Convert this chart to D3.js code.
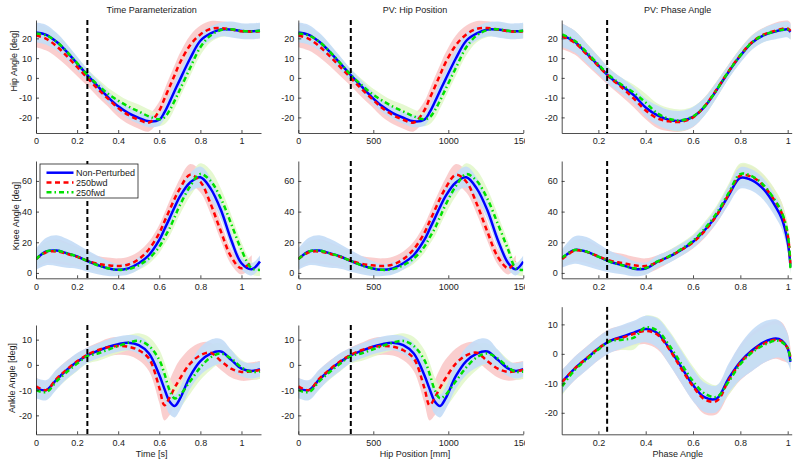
<!DOCTYPE html>
<html><head><meta charset="utf-8">
<script src="https://cdn.jsdelivr.net/npm/d3@7"></script>
<style>body{margin:0;background:#fff}svg{display:block}</style>
</head><body>
<svg id="c" width="800" height="465"></svg>
<script>
// ---- grids (x categories) ----
const timeGrid = [0,0.05,0.1,0.15,0.2,0.25,0.3,0.35,0.4,0.45,0.5,0.55,0.6,0.625,0.65,0.675,0.7,0.75,0.8,0.85,0.9,0.95,1.0,1.05,1.09];
const hipPosGrid = [0,70,140,210,280,350,420,490,560,630,700,770,840,875,910,945,980,1050,1120,1190,1260,1330,1400,1450,1500];
const phaseGrid = [0.047,0.1,0.15,0.2,0.25,0.3,0.35,0.4,0.45,0.5,0.55,0.6,0.65,0.7,0.75,0.8,0.85,0.9,0.95,0.975,1.0,1.012];

// ---- time / hip-position parameterization (means) ----
const hipNP  = [23,21.8,18.3,13.2,7.3,1.4,-4.2,-9.7,-14.4,-17.8,-20.2,-22,-21.2,-17.5,-12.2,-6.5,-1,9.8,18.8,22.5,24.5,24.5,23.7,23.6,23.9];
const hipBwd = [21.5,19.8,16,11,5.5,0,-5.5,-10.5,-15.3,-18.8,-21.2,-22.6,-16.5,-10.5,-4.6,1.5,7.5,16.5,22,24.8,25.2,24.5,23.6,23.4,23.6];
const hipFwd = [22.5,21.5,18.3,13.3,7.5,1.5,-3.5,-8,-11.5,-14.5,-17,-19.5,-21,-20,-16.5,-11.5,-6,5,15.5,21.5,24.2,24.6,23.8,23.5,23.8];
const kneeNP  = [9,14,14.6,12.8,10.7,7.8,5.2,3,2,3,6.3,11.7,21.5,28.5,35.6,43,49.8,59,62.4,55,41,21.5,6.3,2.4,7.4];
const kneeBwd = [9,13.5,14,12.5,10.5,8,6,5,4.5,5.5,9,15.5,26,33.5,41,48.5,55,64,59.5,45,27,10.5,3,7.5,null];
const kneeFwd = [9,14,14.6,12.8,10.7,7.8,5,3,2,2.5,5,9.5,17,23,29,36.5,44,56.5,64.5,60,48.5,32,15,3,2];
const ankleNP  = [-9.2,-10,-5.8,-2,1.2,3.8,5.5,7.1,8.2,8.8,7.8,4.5,-4,-9.5,-14.5,-16.3,-13.5,-4.5,1.5,4.5,5.3,2,-1.5,-2.4,-1.7];
const ankleBwd = [-8.5,-10,-5.5,-1.8,1.4,4,5.8,7,7.5,7.2,5.8,2.5,-9,-16,-13,-9,-5.5,0.5,3.8,4.8,1.5,-1.5,-2.8,-2.5,-2];
const ankleFwd = [-10,-10.8,-6.5,-2.8,0.5,3.5,4.5,6,7.5,8.8,9.5,7.5,2,-3.5,-10,-13.3,-12,-6.5,-1,3,4.5,2.5,-1,-2.8,-2.6];
// standard deviations
const hipSdNP  = [5,5,4.5,4,3.5,3,3,3,3,3,3,3,3,3.5,4,4.5,4.5,4.5,4,3.5,3.5,4,4,4,4];
const hipSdBwd = [6,6,5.5,5,4.5,4,4,4,4.5,4.5,4.5,4.5,4.5,4.5,5,5,5,5,4.5,4,3.5,3.5,3.5,3.5,3.5];
const hipSdFwd = [4,4,4,3.5,3,3,3,3,3,3,3.5,3.5,3.5,3.5,4,4,4,4,4,3.5,3.5,3.5,3.5,3.5,3.5];
const kneeSdNP  = [7,9,10,9.5,8,7,6,5,4,4,4,4,4.5,4.5,5,5,5.5,6,7,7,6,5,4,4,4];
const kneeSdBwd = [6,7,8,7.5,6.5,5.5,5,5,5,5,5,5,5.5,5.5,6,6,6.5,7,7,6.5,6,5,4,4,4];
const kneeSdFwd = [5,6,6.5,6,5.5,5,4,3.5,3,3,3,3.5,4,4.5,5,5.5,6,6.5,7,7,6.5,6,5,4,4];
const ankleSdNP  = [4,4,4,3.5,3.5,3,3,3,3,3,3.5,4,5,5,5,4.5,4.5,5,5.5,5.5,5,4,3,3,3];
const ankleSdBwd = [3.5,3.5,3.5,3.5,3,3,3,3.5,3.5,3.5,4,5,6,6,7,7.5,7.5,6,5,4,3.5,3.5,3.5,3.5,3.5];
const ankleSdFwd = [3,3,3,3,3,3,3,3,3,3,3,3.5,4,4.5,5,5,5,5,5,5,4,3.5,3,3,3];

// ---- phase angle parameterization ----
const phHipNP  = [21.5,18.3,12.4,6.3,0.2,-4.1,-8.8,-15,-19,-21.3,-21.7,-19.7,-14.4,-6.1,3,11.2,17.9,21.7,23.6,24.2,24.5,23.3];
const phHipBwd = [21,17.8,12,6,0,-5,-10.5,-16.5,-20.5,-22,-22.2,-20,-14.2,-5.8,3.3,11.5,18.2,22,24,24.8,25,23.8];
const phHipFwd = [22,18.8,13,6.8,0.8,-3.6,-7.5,-12.5,-18,-20.8,-21.5,-19.5,-14.3,-6,3.2,11.4,18,21.8,23.6,24.3,24.5,23];
const phKneeNP  = [9.5,15,13.9,10.6,7.3,5.2,2.8,2.8,7.4,10.6,15,20.3,28,37.7,50.5,62,60.4,54.3,43,35.5,20.3,4];
const phKneeBwd = [9,14.5,13.8,10.8,8,6.5,5,4.5,7,10.8,15,20,27.5,37.5,51,63.5,62.5,56.5,46,39,25,6];
const phKneeFwd = [10,15,13.9,10.6,7.3,5,3,3.2,7.5,11,15.5,21,29,39,52,64.5,63,57,46.5,39.5,26,2.5];
const phAnkleNP  = [-9.5,-5,-1.6,1.8,4.4,5.8,7.2,8.4,7,1.8,-4.4,-10.6,-14.8,-15.2,-8.4,-2.7,1.2,4,5.2,4.5,1.8,-2.7];
const phAnkleBwd = [-9.5,-5,-1.5,1.8,4.5,5.5,6.8,7.8,6.5,1.5,-5,-11,-15.5,-16,-9,-3,0.8,3.5,4.8,4.2,2,-1];
const phAnkleFwd = [-11,-5.5,-2,1.5,4.3,4.8,5.5,9,7.8,2.8,-3.3,-9.3,-13.5,-14.6,-9.5,-3.5,0.5,3,4.5,4,2,-2.5];
const phHipSdNP  = [6,5.5,5,4.5,4,4,4,4.5,5,5,5,5,4.5,4,3.5,3.5,3.5,3.5,4,4,4,4];
const phHipSdBwd = [6.5,6,5.5,5,4.5,4.5,4.5,4.5,5,5,5,5,4.5,4,3.5,3.5,3.5,3.5,4,4,4,4];
const phHipSdFwd = [5,5,4.5,4,3.5,3.5,4,4.5,5,5.5,5.5,5,4.5,4,3.5,3.5,3.5,3.5,3.5,3.5,3.5,3.5];
const phKneeSdNP  = [6,9,9.5,8.5,7,6,5,4,4,4,4,4,4.5,5,6,7,7,7,7,7,6,4];
const phKneeSdBwd = [5,7,7.5,7,6,6,5.5,5,4.5,4,4,4,4.5,5,6,7,7,7,7,7,6,4];
const phKneeSdFwd = [5,6,6,5.5,5,4,3,3,3.5,4,4,4,4.5,5,6,7,7,7,7,6.5,6,4];
const phAnkleSdNP  = [4,4,4,4,4,4,4,4.5,5,5.5,5.5,5.5,5,4.5,5,6,7,7,6.5,6,5,3];
const phAnkleSdBwd = [4,4,4,4,4,4,4,4.5,5,5,5,5,5,4.5,5,6,6.5,6.5,6.5,6.5,5,3];
const phAnkleSdFwd = [3,3,3,3,3,3.5,4,4,4.5,5,5,5,4.5,4,4.5,5,5.5,5.5,5.5,5,4,3];

// ---- labels / ticks ----
const seriesNames = ["Non-Perturbed","250bwd","250fwd"];
const colTitles = ["Time Parameterization","PV: Hip Position","PV: Phase Angle"];
const colXLabels = ["Time [s]","Hip Position [mm]","Phase Angle"];
const rowYLabels = ["Hip Angle [deg]","Knee Angle [deg]","Ankle Angle [deg]"];
const xTicks = [[0,0.2,0.4,0.6,0.8,1],[0,500,1000,1500],[0.2,0.4,0.6,0.8,1]];
const yTicks = [[-20,-10,0,10,20],[0,20,40,60],[-20,-10,0,10]];
const markerX = [0.25, 350, 0.237];

// ---- layout / style ----
const font = "'Liberation Sans', Arial, Helvetica, sans-serif";
const colPx = [[36,261],[298.3,523.3],[561.7,791.7]];
const xDomains = [[0,1.095],[0,1500],[0.045,1.017]];
const rowPx = [[[20,133],[20,133],[20,133]],[[161,278.3],[161,278.3],[161,278.3]],[[325,434.3],[325,434.3],[306.7,434.3]]];
const yDomains = [[[-27.9,29.3],[-27.9,29.3],[-27.9,29.3]],[[-3.5,73],[-3.5,73],[-3.5,73]],[[-27.5,15.8],[-27.5,15.8],[-27.3,16]]];
const sty = [
  {color:"#0000ff", band:"#c4dcf6", dash:null},
  {color:"#ff0000", band:"#f9c6c6", dash:"5,3.5"},
  {color:"#00e000", band:"#e0f7c8", dash:"5,3,1.5,3"}
];

const grids = [timeGrid, hipPosGrid, phaseGrid];
const tpData = [
  [[hipNP,hipSdNP],[hipBwd,hipSdBwd],[hipFwd,hipSdFwd]],
  [[kneeNP,kneeSdNP],[kneeBwd,kneeSdBwd],[kneeFwd,kneeSdFwd]],
  [[ankleNP,ankleSdNP],[ankleBwd,ankleSdBwd],[ankleFwd,ankleSdFwd]]
];
const phData = [
  [[phHipNP,phHipSdNP],[phHipBwd,phHipSdBwd],[phHipFwd,phHipSdFwd]],
  [[phKneeNP,phKneeSdNP],[phKneeBwd,phKneeSdBwd],[phKneeFwd,phKneeSdFwd]],
  [[phAnkleNP,phAnkleSdNP],[phAnkleBwd,phAnkleSdBwd],[phAnkleFwd,phAnkleSdFwd]]
];

const svg = d3.select("#c");
const defs = svg.append("defs");
// clip for the middle column's tick labels (the last label is cut at the figure edge)
defs.append("clipPath").attr("id", "tclip").append("rect")
  .attr("x", 0).attr("y", -20).attr("width", 525).attr("height", 60);

for (let r = 0; r < 3; r++) {
  for (let c = 0; c < 3; c++) {
    const [x0, x1] = colPx[c];
    const [y0, y1] = rowPx[r][c];
    const x = d3.scaleLinear().domain(xDomains[c]).range([x0, x1]);
    const y = d3.scaleLinear().domain(yDomains[r][c]).range([y1, y0]);
    const grid = grids[c];
    const data = c === 2 ? phData[r] : tpData[r];
    const cid = `clip${r}${c}`;
    defs.append("clipPath").attr("id", cid).append("rect")
      .attr("x", x0).attr("y", y0).attr("width", x1 - x0).attr("height", y1 - y0);
    const g = svg.append("g").attr("clip-path", `url(#${cid})`);

    const pts = (k) => grid.map((gx, i) => ({x: gx, m: data[k][0][i], s: data[k][1][i]}));
    const area = d3.area().defined(d => d.m != null)
      .x(d => x(d.x)).y0(d => y(d.m - d.s)).y1(d => y(d.m + d.s))
      .curve(d3.curveCatmullRom);
    const line = d3.line().defined(d => d.m != null)
      .x(d => x(d.x)).y(d => y(d.m)).curve(d3.curveCatmullRom);

    [1, 2, 0].forEach(k => {
      g.append("path").attr("d", area(pts(k))).attr("fill", sty[k].band)
        .attr("fill-opacity", k === 0 ? 0.92 : 0.85);
    });
    [0, 1, 2].forEach(k => {
      g.append("path").attr("d", line(pts(k))).attr("fill", "none")
        .attr("stroke", sty[k].color).attr("stroke-width", 2.5)
        .attr("stroke-dasharray", sty[k].dash);
    });
    // marker
    g.append("line").attr("x1", x(markerX[c])).attr("x2", x(markerX[c]))
      .attr("y1", y0).attr("y2", y1).attr("stroke", "#000")
      .attr("stroke-width", 2).attr("stroke-dasharray", "5,3");

    // axes
    const xa = svg.append("g").attr("transform", `translate(0,${y1})`)
      .call(d3.axisBottom(x).tickValues(xTicks[c]).tickFormat(d => String(d))
        .tickSizeInner(-3).tickSizeOuter(0).tickPadding(5));
    const ya = svg.append("g").attr("transform", `translate(${x0},0)`)
      .call(d3.axisLeft(y).tickValues(yTicks[r]).tickFormat(d => String(d))
        .tickSizeInner(-3).tickSizeOuter(0).tickPadding(4));
    [xa, ya].forEach(a => {
      a.selectAll("text").attr("font-family", font).attr("font-size", 9).attr("fill", "#222");
      a.selectAll("path,line").attr("stroke", "#222").attr("stroke-width", 0.8);
    });
    if (c === 1) xa.attr("clip-path", "url(#tclip)");
  }
}

// titles
const titleX = [151.7, 415, 677.7];
colTitles.forEach((t, c) => {
  svg.append("text").attr("x", titleX[c]).attr("y", 13).attr("text-anchor", "middle")
    .attr("font-family", font).attr("font-size", 9).attr("fill", "#222").text(t);
});
colXLabels.forEach((t, c) => {
  svg.append("text").attr("x", titleX[c]).attr("y", 457).attr("text-anchor", "middle")
    .attr("font-family", font).attr("font-size", 9).attr("fill", "#222").text(t);
});
const yLabPos = [[13.5, 61], [16, 216], [12, 378]];
rowYLabels.forEach((t, r) => {
  const [lx, ly] = yLabPos[r];
  svg.append("text").attr("transform", `translate(${lx + 3},${ly}) rotate(-90)`)
    .attr("text-anchor", "middle").attr("font-family", font).attr("font-size", 9)
    .attr("fill", "#222").text(t);
});

// legend
const lg = svg.append("g");
lg.append("rect").attr("x", 40).attr("y", 164).attr("width", 98).attr("height", 34)
  .attr("fill", "#fff").attr("stroke", "#222").attr("stroke-width", 0.8);
seriesNames.forEach((n, k) => {
  const ly = 172.7 + k * 9.8;
  lg.append("line").attr("x1", 46.5).attr("x2", 73.5).attr("y1", ly).attr("y2", ly)
    .attr("stroke", sty[k].color).attr("stroke-width", 2.5).attr("stroke-dasharray", sty[k].dash);
  lg.append("text").attr("x", 76).attr("y", ly + 3.2).attr("font-family", font)
    .attr("font-size", 9).attr("fill", "#222").text(n);
});
</script>
</body></html>
